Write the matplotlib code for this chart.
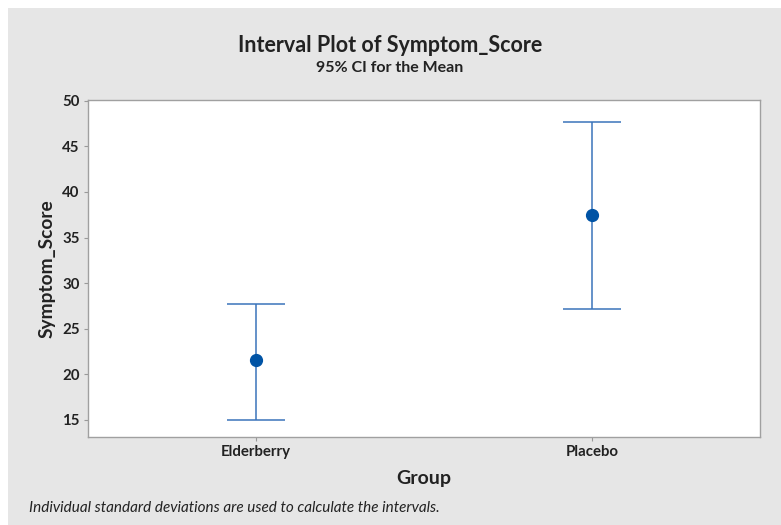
import matplotlib.pyplot as plt
from matplotlib.patches import Rectangle

plt.rcParams['font.family'] = ['Lato', 'DejaVu Sans']

# interval plot data
groups = ["Elderberry", "Placebo"]
means = [21.5, 37.5]
lower = [15.0, 27.1]
upper = [27.7, 47.7]
yticks = [15, 20, 25, 30, 35, 40, 45, 50]

W, H = 781, 525
fig = plt.figure(figsize=(W / 100, H / 100), dpi=100)
fig.patch.set_facecolor("white")
bg = Rectangle((8 / W, 0), 1, 1 - 8 / H, transform=fig.transFigure,
               facecolor="#e6e6e6", edgecolor="none", zorder=-10)
fig.add_artist(bg)

ax = fig.add_axes([88 / W, 1 - 437 / H, (760 - 88) / W, (437 - 100) / H])
ax.set_zorder(5)
ax.set_facecolor("white")

x = list(range(len(groups)))
err = [[m - lo for m, lo in zip(means, lower)], [hi - m for m, hi in zip(means, upper)]]
ax.errorbar(x, means, yerr=err, fmt="none", ecolor="#3a74bb", elinewidth=1.1,
            capsize=21, capthick=1.1)
ax.plot(x, means, "o", color="#0053a5", markersize=8.5, zorder=3)

ax.set_xlim(-0.5, 1.5)
ax.set_ylim(13.1, 50.1)
ax.set_xticks(x)
ax.set_xticklabels(groups, fontsize=10.8, fontweight="bold", color="#222222")
ax.set_yticks(yticks)
ax.set_yticklabels([str(t) for t in yticks], fontsize=10.8, fontweight="bold", color="#222222")
ax.tick_params(length=3, color="#999999", width=0.8, pad=3)

for s in ax.spines.values():
    s.set_color("#a0a0a0")
    s.set_linewidth(1.0)

ax.set_xlabel("Group", fontsize=14, fontweight="bold", color="#222222", labelpad=8)
ax.set_ylabel("Symptom_Score", fontsize=13.8, fontweight="bold", color="#222222", labelpad=5)

fig.text(390 / W, 1 - 45 / H, "Interval Plot of Symptom_Score", ha="center", va="center",
         fontsize=15.5, fontweight="bold", color="#222222")
fig.text(390 / W, 1 - 68 / H, "95% CI for the Mean", ha="center", va="center",
         fontsize=11.5, fontweight="bold", color="#222222")
fig.text(29 / W, 1 - 508 / H, "Individual standard deviations are used to calculate the intervals.",
         ha="left", va="center", fontsize=11, fontstyle="italic", color="#222222")

fig.savefig("out.png", dpi=100, facecolor=fig.get_facecolor())
